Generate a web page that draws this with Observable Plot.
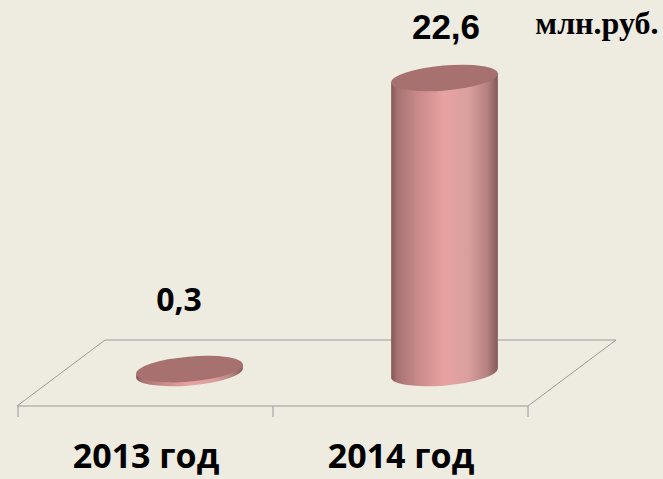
<!DOCTYPE html>
<html><head><meta charset="utf-8">
<script src="https://cdn.jsdelivr.net/npm/d3@7"></script>
<script src="https://cdn.jsdelivr.net/npm/@observablehq/plot@0.6"></script>
<style>html,body{margin:0;padding:0;background:#EEEBE1;overflow:hidden}</style>
</head><body><div id="chart"></div>
<script>
const categories = ["2013 год", "2014 год"];
const seriesValues = [0.3, 22.6];
const valueLabels = ["0,3", "22,6"];
const unitLabel = "млн.руб.";

const data = categories.map((c, i) => ({category: c, value: seriesValues[i], label: valueLabels[i]}));

// 3D projection offsets (half depth) in pixels
const DX = 44, DY = -33;
const TILT = -5;

function floorMark(index, scales) {
  const x = scales.x, y = scales.y;
  const [x0, x1] = x.range();
  const y0 = y(0);
  const front = y0 - DY, back = y0 + DY;
  const g = d3.create("svg:g").attr("fill", "none").attr("stroke", "#9a9a9a").attr("stroke-width", 1);
  g.append("path").attr("d",
    `M${x0},${front}L${x1},${front}L${x1 + 2 * DX},${back}L${x0 + 2 * DX},${back}Z`);
  const ticks = x.domain().map(d => x(d)).concat([x1]);
  for (const t of ticks) g.append("line").attr("x1", t).attr("x2", t).attr("y1", front).attr("y2", front + 11);
  return g.node();
}

function cylinderMark(index, scales) {
  const x = scales.x, y = scales.y;
  const bw = x.bandwidth();
  const rx = bw * 0.21, ry = 12.5;
  const th = TILT * Math.PI / 180;
  const ex = rx * Math.cos(th), ey = rx * Math.sin(th);
  const g = d3.create("svg:g");
  const defs = g.append("defs");
  const grad = defs.append("linearGradient").attr("id", "cylBody").attr("x1", 0).attr("x2", 1).attr("y1", 0).attr("y2", 0);
  [[0, "#855656"], [0.06, "#a87272"], [0.25, "#c98a8a"], [0.5, "#e7a2a1"], [0.72, "#daa09e"], [0.9, "#b48180"], [1, "#825a59"]]
    .forEach(([o, c]) => grad.append("stop").attr("offset", o).attr("stop-color", c));
  for (const d of data) {
    const cx = x(d.category) + bw / 2 + DX;
    const yb = y(0), yt = y(d.value);
    const body = `M${cx - ex},${yt - ey}L${cx - ex},${yb - ey}` +
      `A${rx},${ry} ${TILT} 0 0 ${cx + ex},${yb + ey}` +
      `L${cx + ex},${yt + ey}Z`;
    g.append("path").attr("d", body).attr("fill", "url(#cylBody)");
    g.append("ellipse").attr("cx", cx).attr("cy", yt).attr("rx", rx).attr("ry", ry)
      .attr("transform", `rotate(${TILT} ${cx} ${yt})`).attr("fill", "#a6716f");
  }
  return g.node();
}

const chart = Plot.plot({
  width: 663,
  height: 479,
  margin: 0,
  style: {background: "#EEEBE1", overflow: "visible"},
  x: {type: "band", domain: categories, range: [17, 528], padding: 0, axis: null},
  y: {domain: [0, 22.6], range: [373, 78], axis: null},
  marks: [
    floorMark,
    cylinderMark,
    Plot.text(data.filter(d => d.category === categories[0]), {
      x: "category", y: "value", text: "label", dx: DX - 11, dy: -59, lineAnchor: "bottom",
      fontSize: 32, fontWeight: "bold", fontFamily: "'Open Sans', sans-serif", fill: "#000"
    }),
    Plot.text(data.filter(d => d.category === categories[1]), {
      x: "category", y: "value", text: "label", dx: DX + 1, dy: -40, lineAnchor: "bottom",
      fontSize: 35, fontWeight: "bold", fontFamily: "'Liberation Sans', Arial, sans-serif", fill: "#000"
    }),
    Plot.text(data, {
      x: "category", text: "category", frameAnchor: "bottom", lineAnchor: "bottom", dy: -12,
      fontSize: 34, fontWeight: "bold", fontFamily: "'Open Sans', sans-serif", fill: "#000"
    }),
    Plot.text([unitLabel], {
      text: d => d, frameAnchor: "top-right", textAnchor: "end", lineAnchor: "bottom", dx: -5, dy: 33,
      fontSize: 32, fontWeight: "bold", fontFamily: "'Liberation Serif', 'Times New Roman', serif", fill: "#000"
    })
  ]
});
document.getElementById("chart").appendChild(chart);
</script>
</body></html>
